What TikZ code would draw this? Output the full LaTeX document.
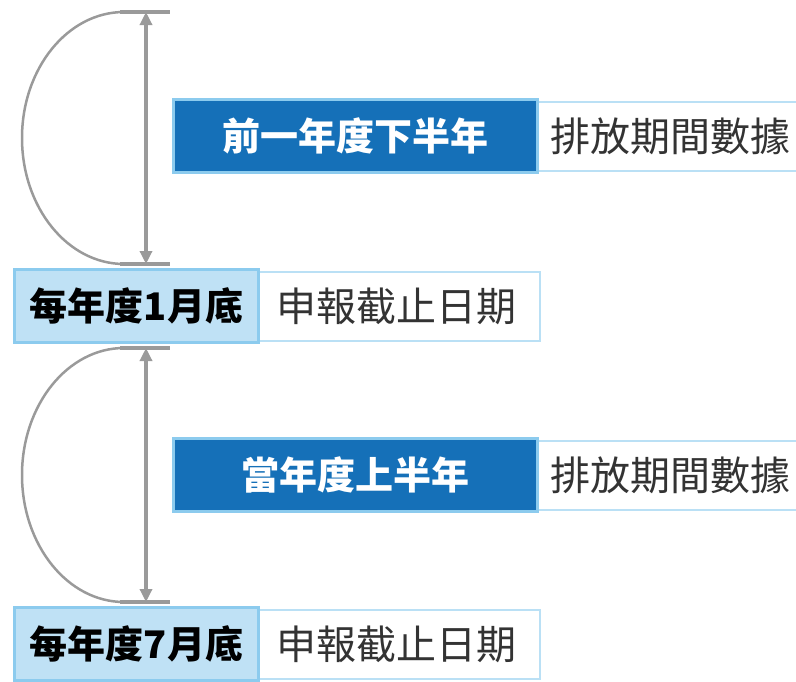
\documentclass[tikz,border=0pt]{standalone}
\usepackage{fontspec}
\newfontfamily\cjk{Noto Sans CJK TC}
\newfontfamily\cjkb{Noto Sans CJK TC Black}
\usetikzlibrary{arrows.meta}
\definecolor{darkblue}{HTML}{1570B8}
\definecolor{edgeblue}{HTML}{8CCBEE}
\definecolor{lightfill}{HTML}{BFE1F5}
\definecolor{palegray}{HTML}{9A9A9A}
\definecolor{textgray}{HTML}{333333}
\tikzset{
  period/.style={draw=edgeblue, line width=3pt, fill=darkblue, text=white,
    minimum width=364pt, minimum height=73pt, anchor=north west, inner sep=0pt,
    font=\cjkb\fontsize{38}{44}\selectfont},
  deadline/.style={draw=edgeblue, line width=3pt, fill=lightfill, text=black,
    minimum width=244pt, minimum height=73pt, anchor=north west, inner sep=0pt,
    font=\cjkb\fontsize{38}{44}\selectfont},
  info/.style={draw=edgeblue!60, line width=1.5pt, fill=white, text=textgray,
    minimum height=69pt, anchor=north west, inner ysep=0pt, align=left,
    font=\cjk\fontsize{40}{46}\selectfont},
  tick/.style={draw=palegray, line width=4pt},
  span/.style={draw=palegray, line width=3.5pt, {Triangle[length=13pt,width=12pt]}-{Triangle[length=13pt,width=12pt]}},
  bow/.style={draw=palegray, line width=2.5pt},
}
\begin{document}
\begin{tikzpicture}[x=1pt,y=-1pt]
\useasboundingbox (0,0) rectangle (796,681);
% tick coordinates
\coordinate (a1) at (120,12);  \coordinate (b1) at (170,12);
\coordinate (a2) at (120,264); \coordinate (b2) at (170,264);
\coordinate (a3) at (120,348); \coordinate (b3) at (170,348);
\coordinate (a4) at (120,602); \coordinate (b4) at (170,602);
\coordinate (m1) at (146,12);  \coordinate (m2) at (146,264);
\coordinate (m3) at (146,348); \coordinate (m4) at (146,602);
% bows
\draw[bow] (124,12) arc[start angle=270, end angle=90, x radius=102, y radius=126];
\draw[bow] (124,348) arc[start angle=270, end angle=90, x radius=102, y radius=127];
% ticks
\draw[tick] (a1) -- (b1);
\draw[tick] (a2) -- (b2);
\draw[tick] (a3) -- (b3);
\draw[tick] (a4) -- (b4);
% spans
\draw[span] (m1) -- (m2);
\draw[span] (m3) -- (m4);
% first period
\node[info, inner xsep=14pt, text width=270pt] (i1) at (536,101) {排放期間數據};
\node[period] (p1) at (172,98) {前一年度下半年};
% first deadline
\node[info, inner xsep=19pt, text width=244pt] (i2) at (257,271) {申報截止日期};
\node[deadline] (d1) at (13,268) {每年度1月底};
% second period
\node[info, inner xsep=14pt, text width=270pt] (i3) at (536,440) {排放期間數據};
\node[period] (p2) at (172,437) {當年度上半年};
% second deadline
\node[info, inner xsep=19pt, text width=244pt] (i4) at (257,609) {申報截止日期};
\node[deadline] (d2) at (13,606) {每年度7月底};
\end{tikzpicture}
\end{document}
